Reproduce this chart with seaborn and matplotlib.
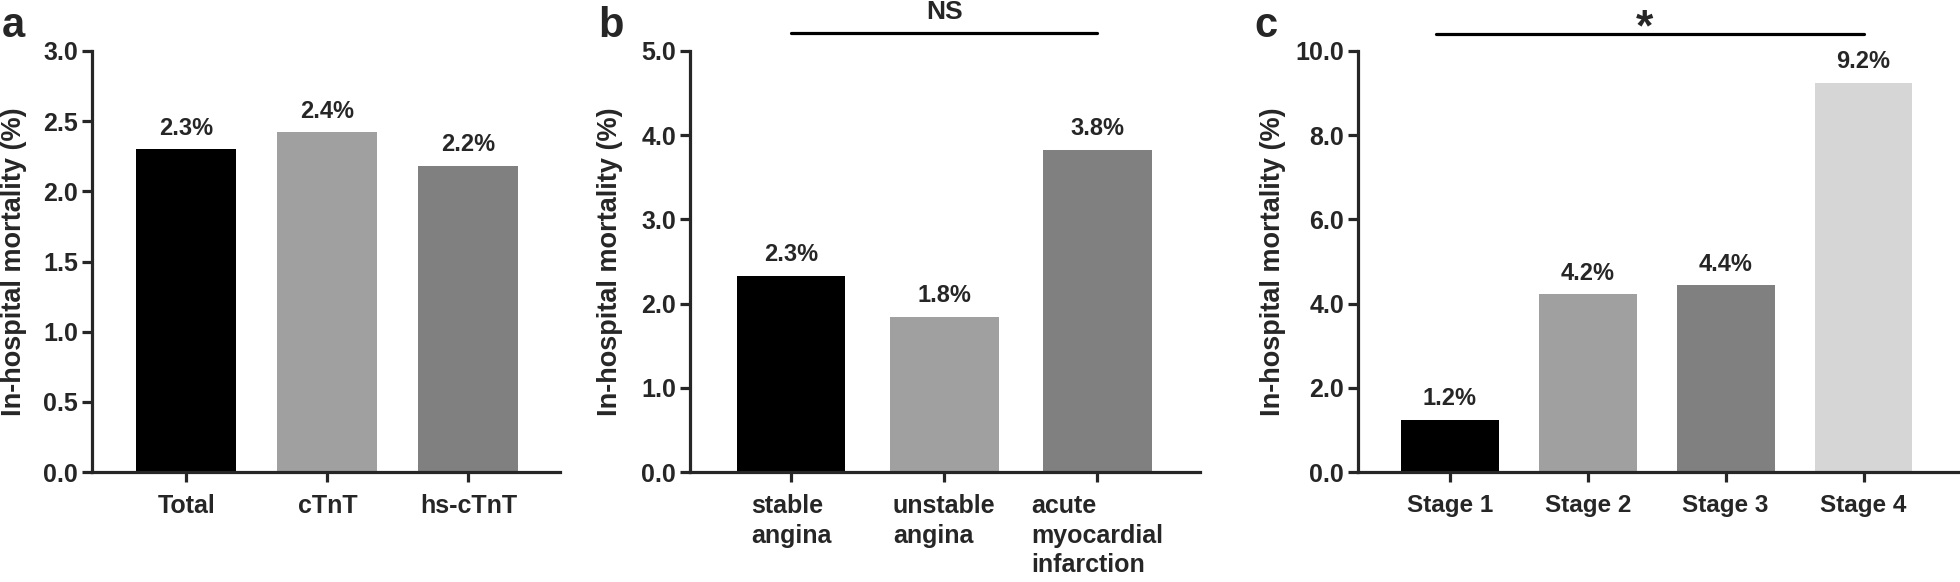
import matplotlib
matplotlib.use("Agg")
import pandas as pd
import seaborn as sns
import matplotlib.pyplot as plt

# panel a: troponin assay
troponin_labels = ["Total", "cTnT", "hs-cTnT"]
troponin_values = [2.30, 2.42, 2.18]
troponin_text = ["2.3%", "2.4%", "2.2%"]

# panel b: type of coronary disease
cad_labels = ["stable\nangina", "unstable\nangina", "acute\nmyocardial\ninfarction"]
cad_values = [2.33, 1.84, 3.83]
cad_text = ["2.3%", "1.8%", "3.8%"]

# panel c: stage
stage_labels = ["Stage 1", "Stage 2", "Stage 3", "Stage 4"]
stage_values = [1.23, 4.22, 4.43, 9.25]
stage_text = ["1.2%", "4.2%", "4.4%", "9.2%"]

grays = ["#000000", "#a0a0a0", "#808080", "#d6d6d6"]


def set_config():
    sns.set_style("ticks")
    plt.rcParams["font.family"] = ["Liberation Sans", "DejaVu Sans"]
    plt.rcParams["font.weight"] = "bold"
    plt.rcParams["axes.linewidth"] = 2.3
    plt.rcParams["xtick.major.width"] = 2.3
    plt.rcParams["ytick.major.width"] = 2.3
    plt.rcParams["xtick.major.size"] = 7
    plt.rcParams["ytick.major.size"] = 7


def draw_panel(ax, labels, values, texts, ylim, yticks, xlim, label_offset):
    df = pd.DataFrame({"group": labels, "mortality": values})
    sns.barplot(data=df, x="group", y="mortality", hue="group",
                palette=grays[:len(labels)], legend=False, width=0.71,
                linewidth=0, saturation=1, ax=ax)
    for i, (v, t) in enumerate(zip(values, texts)):
        ax.annotate(t, (i, v), xytext=(0, 7), textcoords="offset points",
                    ha="center", va="bottom", fontsize=17, fontweight="bold")
    ax.set_ylim(*ylim)
    ax.set_yticks(yticks)
    ax.set_yticklabels([f"{y:.1f}" for y in yticks], fontsize=18, fontweight="bold")
    ax.set_xlim(*xlim)
    ax.set_xlabel("")
    ax.set_ylabel("In-hospital mortality (%)", fontsize=19.5, fontweight="bold")
    ax.yaxis.set_label_coords(label_offset, 0.5)
    ax.tick_params(axis="x", pad=9)
    ax.tick_params(axis="y", pad=3)
    sns.despine(ax=ax)


def main():
    set_config()
    fig = plt.figure(figsize=(19.6, 5.82), dpi=100)
    bottom, height = 110 / 582, 421 / 582

    ax_a = fig.add_axes([92 / 1960, bottom, 468 / 1960, height])
    draw_panel(ax_a, troponin_labels, troponin_values, troponin_text,
               (0, 3.0), [0, 0.5, 1.0, 1.5, 2.0, 2.5, 3.0], (-0.67, 2.65), -0.139)
    ax_a.set_xticks(range(3))
    ax_a.set_xticklabels(troponin_labels, fontsize=18, fontweight="bold")

    ax_b = fig.add_axes([690 / 1960, bottom, 510 / 1960, height])
    draw_panel(ax_b, cad_labels, cad_values, cad_text,
               (0, 5.0), [0, 1, 2, 3, 4, 5], (-0.66, 2.67), -0.131)
    ax_b.set_xticks(range(3))
    ax_b.set_xticklabels(cad_labels, fontsize=18, fontweight="bold",
                         multialignment="left", linespacing=1.28, va="top")
    # significance bar
    ax_b.plot([0, 2], [5.21, 5.21], color="black", lw=2.3, clip_on=False)
    ax_b.text(1, 5.46, "NS", ha="center", va="center", fontsize=19, fontweight="bold")

    ax_c = fig.add_axes([1358 / 1960, bottom, 602 / 1960, height])
    draw_panel(ax_c, stage_labels, stage_values, stage_text,
               (0, 10.0), [0, 2, 4, 6, 8, 10], (-0.667, 3.7), -0.12)
    ax_c.set_xticks(range(4))
    ax_c.set_xticklabels(stage_labels, fontsize=17.5, fontweight="bold")
    ax_c.plot([-0.1, 3.0], [10.41, 10.41], color="black", lw=2.3, clip_on=False)
    ax_c.text(1.41, 10.24, "*", ha="center", va="baseline", fontsize=32, fontweight="bold")

    # panel letters
    fig.text(2 / 1960, 1 - 37 / 582, "a", fontsize=30, fontweight="bold", va="baseline")
    fig.text(598 / 1960, 1 - 37 / 582, "b", fontsize=30, fontweight="bold", va="baseline")
    fig.text(1254 / 1960, 1 - 37 / 582, "c", fontsize=30, fontweight="bold", va="baseline")

    fig.savefig("out.png", dpi=100)


if __name__ == "__main__":
    main()
